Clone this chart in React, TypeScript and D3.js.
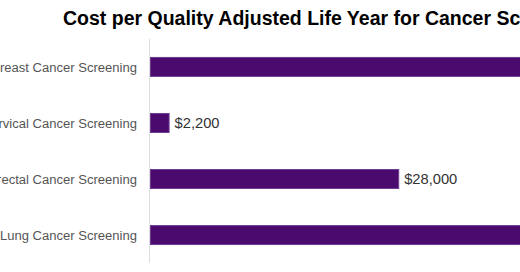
import React from "react";
import * as d3 from "d3";

const categories = [
  "Breast Cancer Screening",
  "Cervical Cancer Screening",
  "Colorectal Cancer Screening",
  "Lung Cancer Screening",
];
const costValues = [51000, 2200, 28000, 81000];
const titleText = "Cost per Quality Adjusted Life Year for Cancer Screening";

const W = 520;
const H = 272;
const left = 150;
const top = 39;
const bottom = 263;

export default function App() {
  const x = d3.scaleLinear().domain([0, 90000]).range([left, left + 801]);
  const y = d3
    .scaleBand<string>()
    .domain(categories)
    .range([top, bottom])
    .paddingInner(0.643)
    .paddingOuter(0.32);
  const fmt = d3.format("$,");
  const font = "'Liberation Sans', Arial, sans-serif";
  return (
    <svg
      width={W}
      height={H}
      style={{ position: "absolute", left: 0, top: 0, background: "#fff" }}
      fontFamily={font}
    >
      <text x={63} y={25} fontSize={19.5} fontWeight="bold" fill="#000">
        {titleText}
      </text>
      <line x1={149.5} x2={149.5} y1={top} y2={bottom} stroke="#dddddd" strokeWidth={1} />
      {categories.map((c, i) => {
        const yy = y(c)!;
        const bw = y.bandwidth();
        const x1 = x(costValues[i]);
        return (
          <g key={c}>
            <text
              x={137}
              y={yy + bw / 2}
              dy="0.35em"
              textAnchor="end"
              fontSize={13.05}
              fill="#555555"
            >
              {c}
            </text>
            <rect
              x={x(0) + 0.5}
              y={yy + 0.5}
              width={x1 - x(0) - 1}
              height={bw - 1}
              fill="#4b0a6e"
              stroke="#6e3d92"
              strokeWidth={1}
            />
            <text
              x={x1 + 5}
              y={yy + bw / 2}
              dy="0.35em"
              fontSize={14.7}
              fill="#333333"
            >
              {fmt(costValues[i])}
            </text>
          </g>
        );
      })}
    </svg>
  );
}
